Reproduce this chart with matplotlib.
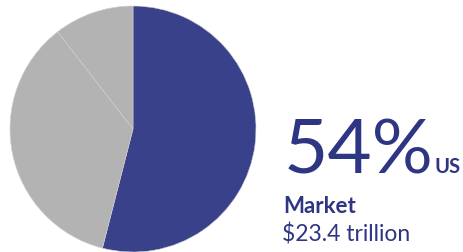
import matplotlib.pyplot as plt

# share of the market
labels = ["US", "Other", "Rest"]
shares = [54, 35.5, 10.5]
colors = ["#38418a", "#b3b3b3", "#b3b3b3"]

big_value = "54%"
big_label = "US"
sub_title = "Market"
sub_value = "$23.4 trillion"

W, H = 464, 253
fig = plt.figure(figsize=(W / 100, H / 100), dpi=100)

# pie sits on the left, centre at (133, 130) px, radius 123 px
ax = fig.add_axes([10 / W, 0, 246 / W, 246 / H])
ax.pie(shares, colors=colors, startangle=90, counterclock=False,
       wedgeprops=dict(edgecolor="#cfcfcf", linewidth=0.4))
ax.set_xlim(-1, 1)
ax.set_ylim(-1, 1)
ax.set_aspect("equal")
ax.axis("off")

txt = "#2e3583"
font = ["Lato", "DejaVu Sans"]
fig.text(284 / W, 1 - 173 / H, big_value, fontsize=55, color=txt,
         family=font, va="baseline", ha="left")
fig.text(435 / W, 1 - 173 / H, big_label, fontsize=14.5, color=txt,
         family=font, fontweight="bold", va="baseline", ha="left")
fig.text(283 / W, 1 - 213 / H, sub_title, fontsize=16, color=txt,
         family=font, fontweight="bold", va="baseline", ha="left")
fig.text(282 / W, 1 - 241 / H, sub_value, fontsize=16.5, color=txt,
         family=font, va="baseline", ha="left")

fig.savefig("out.png", dpi=100)
